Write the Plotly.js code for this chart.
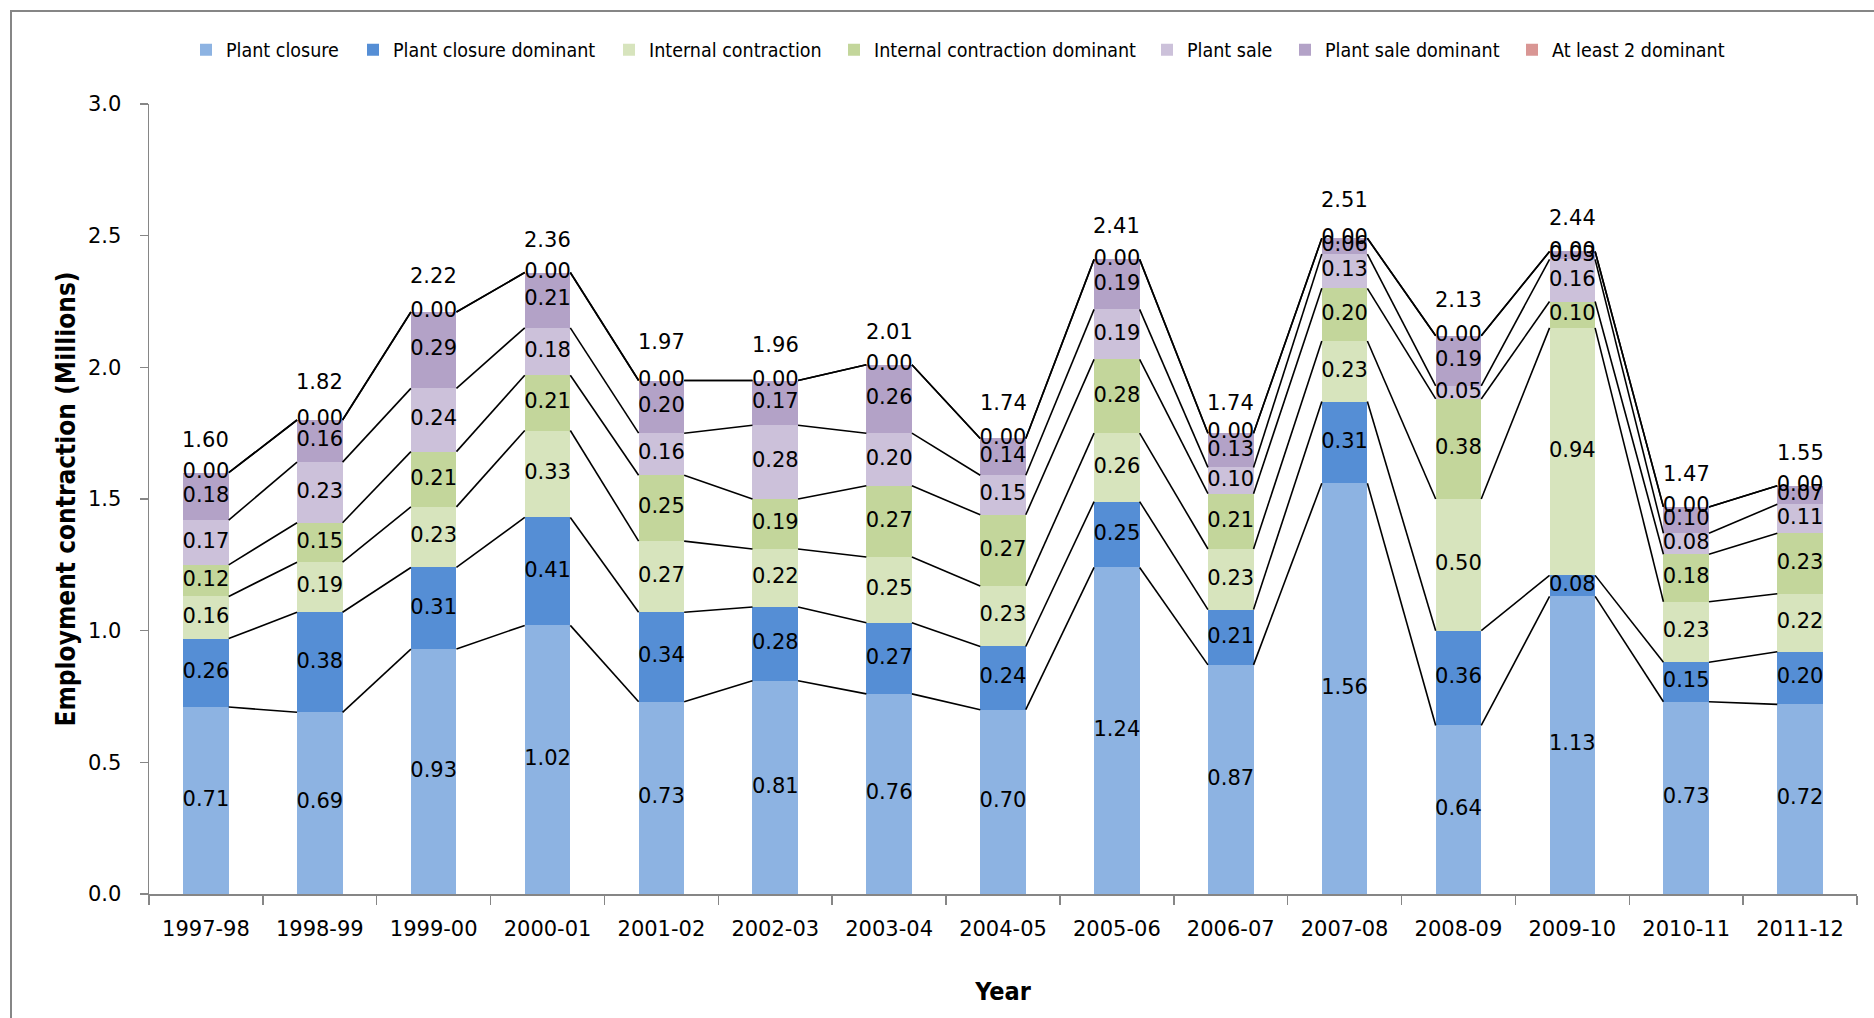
<!DOCTYPE html>
<html>
<head>
<meta charset="utf-8">
<script src="https://cdn.plot.ly/plotly-3.0.1.min.js"></script>
<style>
  html, body { margin: 0; padding: 0; background: #ffffff; }
  #chart { width: 1874px; height: 1018px; }
</style>
</head>
<body>
<div id="chart"></div>
<script>
const categories = ["1997-98","1998-99","1999-00","2000-01","2001-02","2002-03","2003-04","2004-05","2005-06","2006-07","2007-08","2008-09","2009-10","2010-11","2011-12"];
const seriesNames = ["Plant closure","Plant closure dominant","Internal contraction","Internal contraction dominant","Plant sale","Plant sale dominant","At least 2 dominant"];
const plantClosure            = [0.71,0.69,0.93,1.02,0.73,0.81,0.76,0.70,1.24,0.87,1.56,0.64,1.13,0.73,0.72];
const plantClosureDominant    = [0.26,0.38,0.31,0.41,0.34,0.28,0.27,0.24,0.25,0.21,0.31,0.36,0.08,0.15,0.20];
const internalContraction     = [0.16,0.19,0.23,0.33,0.27,0.22,0.25,0.23,0.26,0.23,0.23,0.50,0.94,0.23,0.22];
const internalContractionDom  = [0.12,0.15,0.21,0.21,0.25,0.19,0.27,0.27,0.28,0.21,0.20,0.38,0.10,0.18,0.23];
const plantSale               = [0.17,0.23,0.24,0.18,0.16,0.28,0.20,0.15,0.19,0.10,0.13,0.05,0.16,0.08,0.11];
const plantSaleDominant       = [0.18,0.16,0.29,0.21,0.20,0.17,0.26,0.14,0.19,0.13,0.06,0.19,0.03,0.10,0.07];
const atLeast2Dominant        = [0.00,0.00,0.00,0.00,0.00,0.00,0.00,0.00,0.00,0.00,0.00,0.00,0.00,0.00,0.00];
const totals                  = [1.60,1.82,2.22,2.36,1.97,1.96,2.01,1.74,2.41,1.74,2.51,2.13,2.44,1.47,1.55];
const colors = ["#8DB3E2","#558ED5","#D7E4BD","#C3D69B","#CCC1DA","#B3A2C7","#D99694"];

const series = [plantClosure, plantClosureDominant, internalContraction, internalContractionDom, plantSale, plantSaleDominant, atLeast2Dominant];
const idx = categories.map((c, i) => i);
const barWidth = 0.4;
const numFont = "DejaVu Sans, Verdana, sans-serif";
const narrowFont = "DejaVu Sans Condensed, Liberation Sans Narrow, sans-serif";

const L = 149, R = 17, T = 104, B = 124, W = 1874, H = 1018;
const pw = W - L - R, ph = H - T - B;
const px = (p) => (p - L) / pw;
const py = (p) => (H - B - p) / ph;

// legend entry positions (pixel x of each swatch) as in the reference
const legendIconX = [201, 368, 624, 849, 1162, 1300, 1527];
const legendIds = legendIconX.map((v, k) => k === 0 ? "legend" : "legend" + (k + 1));

const traces = [];
// stacked bars
series.forEach((vals, k) => {
  traces.push({
    type: "bar", name: seriesNames[k], x: idx, y: vals, width: barWidth,
    marker: { color: colors[k], line: { width: 0 } },
    hoverinfo: "name+y", showlegend: true, legend: legendIds[k]
  });
});

// cumulative levels
const cum = [];
let running = idx.map(() => 0);
series.forEach((vals) => {
  const lower = running.slice();
  running = running.map((r, i) => r + vals[i]);
  cum.push({ lower: lower, upper: running.slice() });
});

// series lines connecting tops of segments between bars
const lx = [], ly = [];
cum.forEach((c) => {
  for (let i = 0; i < idx.length - 1; i++) {
    lx.push(idx[i] + barWidth / 2, idx[i + 1] - barWidth / 2, null);
    ly.push(c.upper[i], c.upper[i + 1], null);
  }
});
traces.push({
  type: "scatter", mode: "lines", x: lx, y: ly,
  line: { color: "#000000", width: 1.6 }, hoverinfo: "skip", showlegend: false
});

// segment data labels
series.forEach((vals, k) => {
  traces.push({
    type: "scatter", mode: "text", x: idx,
    y: idx.map(i => (cum[k].lower[i] + cum[k].upper[i]) / 2),
    text: vals.map(v => v.toFixed(2)),
    textposition: "middle center",
    textfont: { family: numFont, size: 21, color: "#000000" },
    hoverinfo: "skip", showlegend: false, cliponaxis: false
  });
});

// total labels
const annotations = idx.map(i => ({
  x: idx[i], y: totals[i], xref: "x", yref: "y", text: totals[i].toFixed(2),
  showarrow: false, yshift: 33,
  font: { family: numFont, size: 21, color: "#000000" }
}));

const layout = {
  width: W, height: H,
  margin: { l: L, r: R, t: T, b: B, pad: 0 },
  paper_bgcolor: "#ffffff", plot_bgcolor: "#ffffff",
  barmode: "stack",
  showlegend: true,
  xaxis: {
    range: [-0.5, 14.5], type: "linear",
    tickvals: idx, ticktext: categories,
    ticks: "", ticklen: 0,
    ticklabelstandoff: 15,
    minor: { tickvals: idx.concat([idx.length]).map(v => v - 0.5), ticks: "outside", ticklen: 9, tickcolor: "#868686", tickwidth: 1.5 },
    showline: true, linecolor: "#868686", linewidth: 1.5,
    showgrid: false, zeroline: false,
    tickfont: { family: numFont, size: 21, color: "#000000" },
    title: { text: "<b>Year</b>", font: { family: narrowFont, size: 25, color: "#000000" }, standoff: 43 },
    fixedrange: true
  },
  yaxis: {
    range: [0, 3.0], tickvals: [0, 0.5, 1.0, 1.5, 2.0, 2.5, 3.0], tickformat: ".1f",
    ticks: "outside", ticklen: 8, tickcolor: "#868686", tickwidth: 1.5,
    ticklabelstandoff: 14,
    showline: true, linecolor: "#868686", linewidth: 1.5,
    showgrid: false, zeroline: false,
    tickfont: { family: numFont, size: 21, color: "#000000" },
    title: { text: "<b>Employment contraction (Millions)</b>", font: { family: narrowFont, size: 26, color: "#000000" }, standoff: 5 },
    fixedrange: true
  },
  annotations: annotations,
  shapes: [{
    type: "rect", xref: "paper", yref: "paper", layer: "below",
    x0: px(11), x1: px(1890), y0: py(11), y1: py(1030),
    line: { color: "#868686", width: 2 }, fillcolor: "rgba(0,0,0,0)"
  }]
};

legendIds.forEach((id, k) => {
  layout[id] = {
    orientation: "h",
    x: px(legendIconX[k] - 15), xanchor: "left", y: py(50), yanchor: "middle",
    font: { family: narrowFont, size: 19.5, color: "#000000" },
    bgcolor: "rgba(0,0,0,0)", borderwidth: 0
  };
});

Plotly.newPlot("chart", traces, layout, { displayModeBar: false, staticPlot: true });
</script>
</body>
</html>
